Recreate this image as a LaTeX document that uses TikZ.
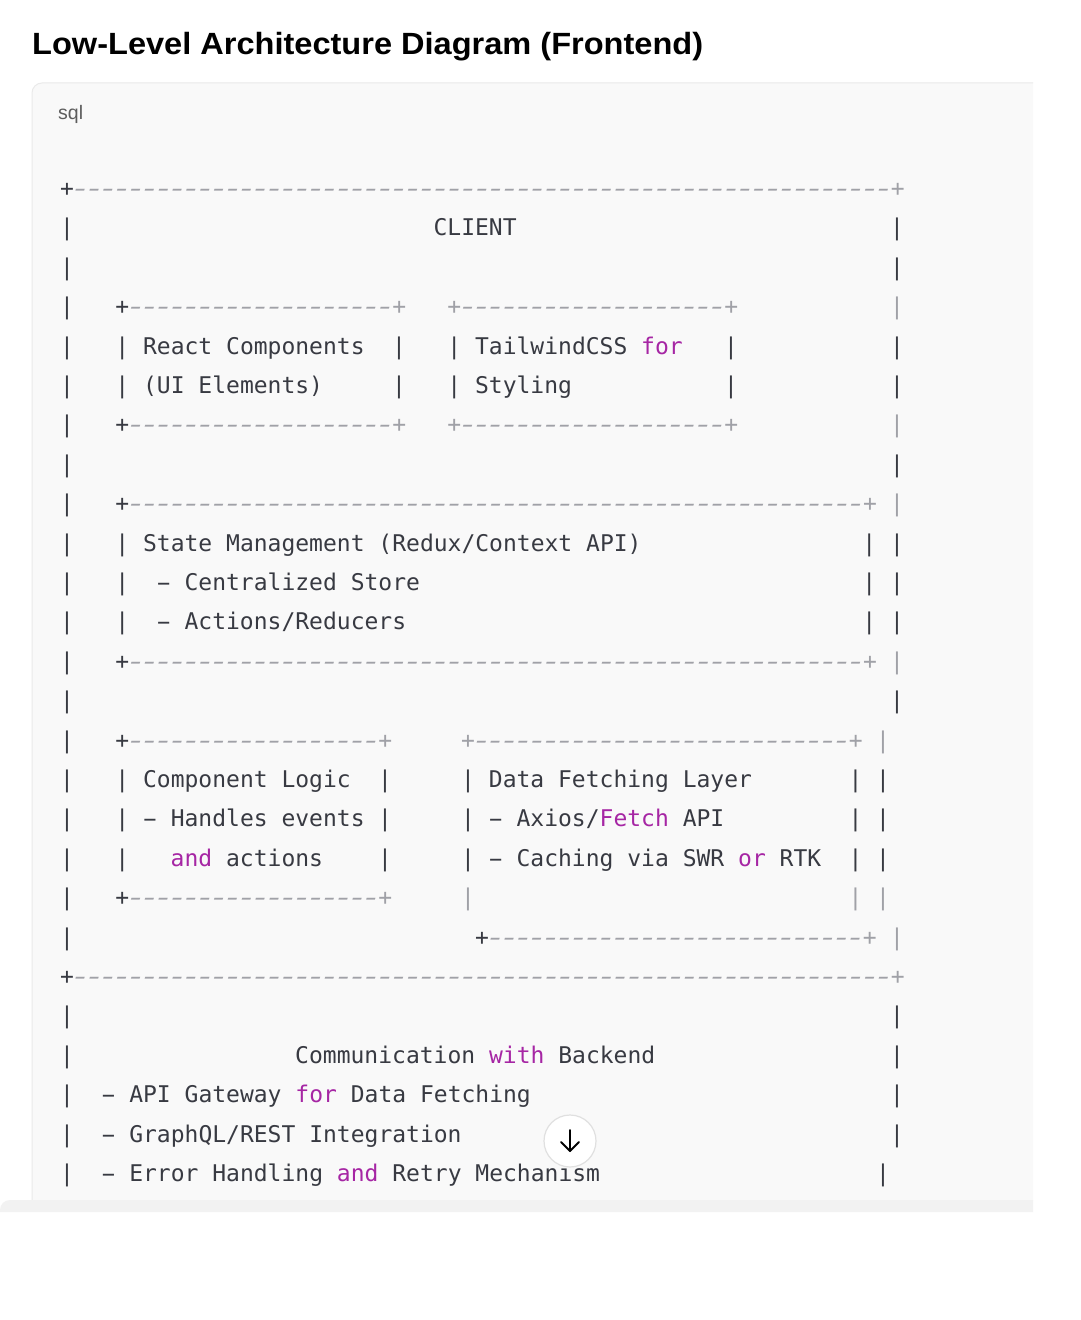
\documentclass[tikz,border=0pt]{standalone}
\usepackage{fontspec}
\usepackage{graphicx}
\setmonofont{DejaVu Sans Mono}
\newfontfamily\titlefont{Liberation Sans}
\newfontfamily\labelfont{Liberation Sans}
\definecolor{codetxt}{HTML}{383A42}
\definecolor{codekw}{HTML}{A626A4}
\definecolor{codecmt}{HTML}{A0A1A7}
\definecolor{blockbg}{HTML}{F9F9F9}
\definecolor{blockline}{HTML}{EAEAEA}
\definecolor{bandbg}{HTML}{F2F2F2}
\definecolor{labelgray}{HTML}{5D5D5D}
\definecolor{titleblack}{HTML}{0D0D0D}
\newcommand\codesize{\ttfamily\fontsize{23bp}{28bp}\selectfont}
\newcommand\kw[1]{\textcolor{codekw}{#1}}
% one character cell wide dashes
\newcommand\cdash{\makebox[0.60205em][c]{\scalebox{1.5}[1]{-}}}
\newcommand\hy{\makebox[0.60205em][c]{\scalebox{1.9}[1]{-}}}
\ExplSyntaxOn
\NewDocumentCommand\dashes{m}{\prg_replicate:nn{#1}{\cdash}}
\ExplSyntaxOff
\newcounter{segc}
\newsavebox\titlebox
\tikzset{
  seg/.style={anchor=base west, inner sep=0pt, outer sep=0pt, font=\codesize, text=codetxt},
  cmt/.style={text=codecmt, font=\codesize\itshape},
  btnstyle/.style={circle, draw=black!12, fill=white, line width=1.2bp, minimum size=52bp, inner sep=0pt},
}
\newcommand\seg[4][]{\stepcounter{segc}\edef\segname{s\arabic{segc}}%
  \node[seg,#1] (\segname) at ({60.08+#2*13.833},{196.4+#3*39.4}) {#4};}
\begin{document}
\sbox\titlebox{\titlefont\bfseries\fontsize{30.7bp}{36bp}\selectfont Low-Level Architecture Diagram (Frontend)}%
\pgfmathsetmacro\tsx{673.5/\wd\titlebox}%
\begin{tikzpicture}[x=1bp,y=-1bp]
\useasboundingbox (0,0) rectangle (1080,1320);
\fill[white] (0,0) rectangle (1080,1320);
% code block
\fill[blockbg] (1033,83) [rounded corners=10bp] -- (32,83) [sharp corners] -- (32,1200) -- (1033,1200) -- cycle;
\draw[blockline, line width=1bp] (1033,83) [rounded corners=10bp] -- (32,83) [sharp corners] -- (32,1200);
% bottom band
\fill[bandbg] (0,1212) [rounded corners=10bp] -- (0,1200) [sharp corners] -- (1033,1200) -- (1033,1212) -- cycle;
% title
\node[anchor=base west, inner sep=0pt, text=titleblack] (title) at (32,55) {\scalebox{\tsx}[1]{\usebox\titlebox}};
% language label
\node[anchor=base west, inner sep=0pt, text=labelgray, font=\labelfont\fontsize{19.5bp}{24bp}\selectfont] (lang) at (58,120) {sql};
% ASCII diagram
\seg{0}{0}{+}\seg[cmt]{1}{0}{\dashes{59}+}
\seg{0}{1}{|}\seg{27}{1}{CLIENT}\seg{60}{1}{|}
\seg{0}{2}{|}\seg{60}{2}{|}
\seg{0}{3}{|}\seg{4}{3}{+}\seg[cmt]{5}{3}{\dashes{19}+}\seg[cmt]{28}{3}{+\dashes{19}+}\seg[cmt]{60}{3}{|}
\seg{0}{4}{|}\seg{4}{4}{|}\seg{6}{4}{React Components}\seg{24}{4}{|}\seg{28}{4}{|}\seg{30}{4}{TailwindCSS \kw{for}}\seg{48}{4}{|}\seg{60}{4}{|}
\seg{0}{5}{|}\seg{4}{5}{|}\seg{6}{5}{(UI Elements)}\seg{24}{5}{|}\seg{28}{5}{|}\seg{30}{5}{Styling}\seg{48}{5}{|}\seg{60}{5}{|}
\seg{0}{6}{|}\seg{4}{6}{+}\seg[cmt]{5}{6}{\dashes{19}+}\seg[cmt]{28}{6}{+\dashes{19}+}\seg[cmt]{60}{6}{|}
\seg{0}{7}{|}\seg{60}{7}{|}
\seg{0}{8}{|}\seg{4}{8}{+}\seg[cmt]{5}{8}{\dashes{53}+}\seg[cmt]{60}{8}{|}
\seg{0}{9}{|}\seg{4}{9}{|}\seg{6}{9}{State Management (Redux/Context API)}\seg{58}{9}{|}\seg{60}{9}{|}
\seg{0}{10}{|}\seg{4}{10}{|}\seg{7}{10}{\hy{} Centralized Store}\seg{58}{10}{|}\seg{60}{10}{|}
\seg{0}{11}{|}\seg{4}{11}{|}\seg{7}{11}{\hy{} Actions/Reducers}\seg{58}{11}{|}\seg{60}{11}{|}
\seg{0}{12}{|}\seg{4}{12}{+}\seg[cmt]{5}{12}{\dashes{53}+}\seg[cmt]{60}{12}{|}
\seg{0}{13}{|}\seg{60}{13}{|}
\seg{0}{14}{|}\seg{4}{14}{+}\seg[cmt]{5}{14}{\dashes{18}+}\seg[cmt]{29}{14}{+\dashes{27}+}\seg[cmt]{59}{14}{|}
\seg{0}{15}{|}\seg{4}{15}{|}\seg{6}{15}{Component Logic}\seg{23}{15}{|}\seg{29}{15}{|}\seg{31}{15}{Data Fetching Layer}\seg{57}{15}{|}\seg{59}{15}{|}
\seg{0}{16}{|}\seg{4}{16}{|}\seg{6}{16}{\hy{} Handles events}\seg{23}{16}{|}\seg{29}{16}{|}\seg{31}{16}{\hy{} Axios/\kw{Fetch} API}\seg{57}{16}{|}\seg{59}{16}{|}
\seg{0}{17}{|}\seg{4}{17}{|}\seg{8}{17}{\kw{and} actions}\seg{23}{17}{|}\seg{29}{17}{|}\seg{31}{17}{\hy{} Caching via SWR \kw{or} RTK}\seg{57}{17}{|}\seg{59}{17}{|}
\seg{0}{18}{|}\seg{4}{18}{+}\seg[cmt]{5}{18}{\dashes{18}+}\seg[cmt]{29}{18}{|}\seg[cmt]{57}{18}{|}\seg[cmt]{59}{18}{|}
\seg{0}{19}{|}\seg{30}{19}{+}\seg[cmt]{31}{19}{\dashes{27}+}\seg[cmt]{60}{19}{|}
\seg{0}{20}{+}\seg[cmt]{1}{20}{\dashes{59}+}
\seg{0}{21}{|}\seg{60}{21}{|}
\seg{0}{22}{|}\seg{17}{22}{Communication \kw{with} Backend}\seg{60}{22}{|}
\seg{0}{23}{|}\seg{3}{23}{\hy{} API Gateway \kw{for} Data Fetching}\seg{60}{23}{|}
\seg{0}{24}{|}\seg{3}{24}{\hy{} GraphQL/REST Integration}\seg{60}{24}{|}
\seg{0}{25}{|}\seg{3}{25}{\hy{} Error Handling \kw{and} Retry Mechanism}\seg{59}{25}{|}
% scroll button
\node[btnstyle] (btn) at (570,1141) {};
\draw[black, line width=2bp, line cap=round] ([yshift=11bp]btn.center) -- ([yshift=-10bp]btn.center);
\draw[black, line width=2bp, line cap=round, line join=round] ([xshift=-9bp,yshift=-1bp]btn.center) -- ([yshift=-10bp]btn.center) -- ([xshift=9bp,yshift=-1bp]btn.center);
\end{tikzpicture}
\end{document}
